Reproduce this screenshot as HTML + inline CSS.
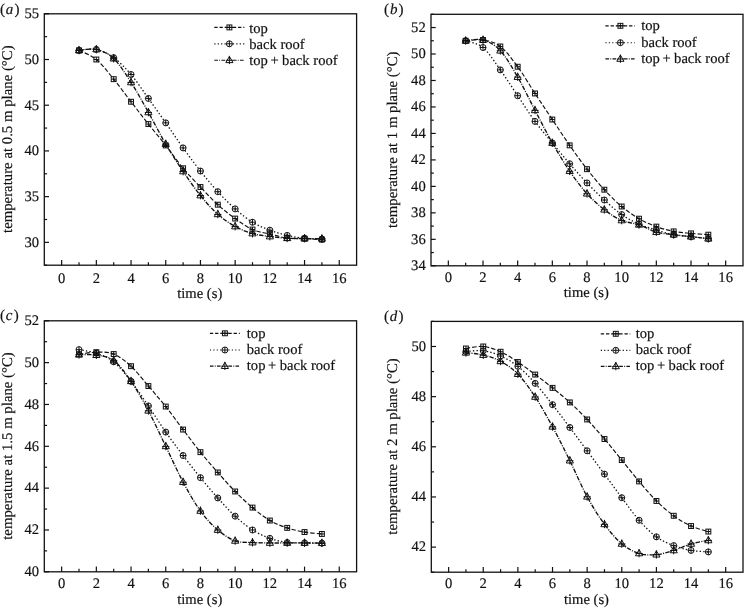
<!DOCTYPE html><html><head><meta charset="utf-8"><style>html,body{margin:0;padding:0;background:#fff;width:744px;height:608px;overflow:hidden}svg{display:block;will-change:transform}text{font-family:"Liberation Serif",serif;fill:#111;text-rendering:geometricPrecision;stroke:#111;stroke-width:0.18}.mk{fill:none;stroke:#111;stroke-width:1.0}.ln{fill:none;stroke:#111;stroke-width:1.15}.fr{fill:none;stroke:#111;stroke-width:1.3}.tk{stroke:#111;stroke-width:1.2}.w1{stroke-width:1.3}.w2{stroke-width:1.35}</style></head><body>
<svg width="744" height="608" viewBox="0 0 744 608">
<g><path d="M61.65,265.2V260" class="tk"/><text x="61.65" y="282.6" font-size="14.6" text-anchor="middle">0</text><path d="M96.35,265.2V260" class="tk"/><text x="96.35" y="282.6" font-size="14.6" text-anchor="middle">2</text><path d="M131.05,265.2V260" class="tk"/><text x="131.05" y="282.6" font-size="14.6" text-anchor="middle">4</text><path d="M165.75,265.2V260" class="tk"/><text x="165.75" y="282.6" font-size="14.6" text-anchor="middle">6</text><path d="M200.45,265.2V260" class="tk"/><text x="200.45" y="282.6" font-size="14.6" text-anchor="middle">8</text><path d="M235.15,265.2V260" class="tk"/><text x="235.15" y="282.6" font-size="14.6" text-anchor="middle">10</text><path d="M269.85,265.2V260" class="tk"/><text x="269.85" y="282.6" font-size="14.6" text-anchor="middle">12</text><path d="M304.55,265.2V260" class="tk"/><text x="304.55" y="282.6" font-size="14.6" text-anchor="middle">14</text><path d="M339.25,265.2V260" class="tk"/><text x="339.25" y="282.6" font-size="14.6" text-anchor="middle">16</text><path d="M79,265.2V262.2" class="tk"/><path d="M113.7,265.2V262.2" class="tk"/><path d="M148.4,265.2V262.2" class="tk"/><path d="M183.1,265.2V262.2" class="tk"/><path d="M217.8,265.2V262.2" class="tk"/><path d="M252.5,265.2V262.2" class="tk"/><path d="M287.2,265.2V262.2" class="tk"/><path d="M321.9,265.2V262.2" class="tk"/><path d="M44.3,242.35H49" class="tk"/><text x="39" y="246.65" font-size="14.6" text-anchor="end">30</text><path d="M44.3,196.64H49" class="tk"/><text x="39" y="200.94" font-size="14.6" text-anchor="end">35</text><path d="M44.3,150.93H49" class="tk"/><text x="39" y="155.23" font-size="14.6" text-anchor="end">40</text><path d="M44.3,105.22H49" class="tk"/><text x="39" y="109.52" font-size="14.6" text-anchor="end">45</text><path d="M44.3,59.51H49" class="tk"/><text x="39" y="63.81" font-size="14.6" text-anchor="end">50</text><path d="M44.3,13.8H49" class="tk"/><text x="39" y="18.1" font-size="14.6" text-anchor="end">55</text><path d="M44.3,265.2H47.1" class="tk"/><path d="M44.3,219.49H47.1" class="tk"/><path d="M44.3,173.78H47.1" class="tk"/><path d="M44.3,128.07H47.1" class="tk"/><path d="M44.3,82.36H47.1" class="tk"/><path d="M44.3,36.65H47.1" class="tk"/><rect x="44.3" y="13.8" width="312.3" height="251.4" class="fr"/><text x="199.75" y="298.2" font-size="14.6" text-anchor="middle">time (s)</text><text transform="translate(12.2,139.2) rotate(-90)" font-size="14.8" text-anchor="middle">temperature at 0.5 m plane (°C)</text><text x="0" y="13.8" font-size="15">(<tspan font-style="italic" dx="0.8">a</tspan><tspan dx="1.2">)</tspan></text><path d="M79,50.37 C81.89,51.89 90.57,54.71 96.35,59.51 C102.13,64.31 107.92,72.12 113.7,79.16 C119.48,86.2 125.27,94.26 131.05,101.74 C136.83,109.23 142.62,116.77 148.4,124.05 C154.18,131.33 159.97,138.07 165.75,145.44 C171.53,152.82 177.32,161.36 183.1,168.3 C188.88,175.23 194.67,180.97 200.45,187.04 C206.23,193.1 212.02,199.42 217.8,204.68 C223.58,209.94 229.37,214.43 235.15,218.58 C240.93,222.72 246.72,226.96 252.5,229.55 C258.28,232.14 264.07,232.7 269.85,234.12 C275.63,235.53 281.42,237.29 287.2,238.05 C292.98,238.81 298.77,238.43 304.55,238.69 C310.33,238.95 319.01,239.45 321.9,239.6" class="ln w0" stroke-dasharray="4.4 2"/><rect x="76.55" y="47.92" width="4.9" height="4.9" class="mk"/><path d="M79,47.92V52.82M76.55,50.37H81.45" class="mk"/><rect x="93.9" y="57.06" width="4.9" height="4.9" class="mk"/><path d="M96.35,57.06V61.96M93.9,59.51H98.8" class="mk"/><rect x="111.25" y="76.71" width="4.9" height="4.9" class="mk"/><path d="M113.7,76.71V81.61M111.25,79.16H116.15" class="mk"/><rect x="128.6" y="99.29" width="4.9" height="4.9" class="mk"/><path d="M131.05,99.29V104.19M128.6,101.74H133.5" class="mk"/><rect x="145.95" y="121.6" width="4.9" height="4.9" class="mk"/><path d="M148.4,121.6V126.5M145.95,124.05H150.85" class="mk"/><rect x="163.3" y="142.99" width="4.9" height="4.9" class="mk"/><path d="M165.75,142.99V147.89M163.3,145.44H168.2" class="mk"/><rect x="180.65" y="165.85" width="4.9" height="4.9" class="mk"/><path d="M183.1,165.85V170.75M180.65,168.3H185.55" class="mk"/><rect x="198" y="184.59" width="4.9" height="4.9" class="mk"/><path d="M200.45,184.59V189.49M198,187.04H202.9" class="mk"/><rect x="215.35" y="202.23" width="4.9" height="4.9" class="mk"/><path d="M217.8,202.23V207.13M215.35,204.68H220.25" class="mk"/><rect x="232.7" y="216.13" width="4.9" height="4.9" class="mk"/><path d="M235.15,216.13V221.03M232.7,218.58H237.6" class="mk"/><rect x="250.05" y="227.1" width="4.9" height="4.9" class="mk"/><path d="M252.5,227.1V232M250.05,229.55H254.95" class="mk"/><rect x="267.4" y="231.67" width="4.9" height="4.9" class="mk"/><path d="M269.85,231.67V236.57M267.4,234.12H272.3" class="mk"/><rect x="284.75" y="235.6" width="4.9" height="4.9" class="mk"/><path d="M287.2,235.6V240.5M284.75,238.05H289.65" class="mk"/><rect x="302.1" y="236.24" width="4.9" height="4.9" class="mk"/><path d="M304.55,236.24V241.14M302.1,238.69H307" class="mk"/><rect x="319.45" y="237.15" width="4.9" height="4.9" class="mk"/><path d="M321.9,237.15V242.05M319.45,239.6H324.35" class="mk"/><path d="M79,50.37 C81.89,50.21 90.57,48.23 96.35,49.45 C102.13,50.67 107.92,53.51 113.7,57.68 C119.48,61.86 125.27,67.71 131.05,74.5 C136.83,81.3 142.62,90.39 148.4,98.45 C154.18,106.51 159.97,114.62 165.75,122.86 C171.53,131.1 177.32,139.88 183.1,147.91 C188.88,155.94 194.67,163.74 200.45,171.04 C206.23,178.34 212.02,185.39 217.8,191.7 C223.58,198.01 229.37,203.8 235.15,208.89 C240.93,213.98 246.72,218.68 252.5,222.23 C258.28,225.78 264.07,227.99 269.85,230.19 C275.63,232.38 281.42,234.06 287.2,235.4 C292.98,236.74 298.77,237.61 304.55,238.23 C310.33,238.86 319.01,238.99 321.9,239.15" class="ln w1" stroke-dasharray="1.4 2.1"/><circle cx="79" cy="50.37" r="3" class="mk"/><path d="M79,47.37V53.37M76,50.37H82" class="mk"/><circle cx="96.35" cy="49.45" r="3" class="mk"/><path d="M96.35,46.45V52.45M93.35,49.45H99.35" class="mk"/><circle cx="113.7" cy="57.68" r="3" class="mk"/><path d="M113.7,54.68V60.68M110.7,57.68H116.7" class="mk"/><circle cx="131.05" cy="74.5" r="3" class="mk"/><path d="M131.05,71.5V77.5M128.05,74.5H134.05" class="mk"/><circle cx="148.4" cy="98.45" r="3" class="mk"/><path d="M148.4,95.45V101.45M145.4,98.45H151.4" class="mk"/><circle cx="165.75" cy="122.86" r="3" class="mk"/><path d="M165.75,119.86V125.86M162.75,122.86H168.75" class="mk"/><circle cx="183.1" cy="147.91" r="3" class="mk"/><path d="M183.1,144.91V150.91M180.1,147.91H186.1" class="mk"/><circle cx="200.45" cy="171.04" r="3" class="mk"/><path d="M200.45,168.04V174.04M197.45,171.04H203.45" class="mk"/><circle cx="217.8" cy="191.7" r="3" class="mk"/><path d="M217.8,188.7V194.7M214.8,191.7H220.8" class="mk"/><circle cx="235.15" cy="208.89" r="3" class="mk"/><path d="M235.15,205.89V211.89M232.15,208.89H238.15" class="mk"/><circle cx="252.5" cy="222.23" r="3" class="mk"/><path d="M252.5,219.23V225.23M249.5,222.23H255.5" class="mk"/><circle cx="269.85" cy="230.19" r="3" class="mk"/><path d="M269.85,227.19V233.19M266.85,230.19H272.85" class="mk"/><circle cx="287.2" cy="235.4" r="3" class="mk"/><path d="M287.2,232.4V238.4M284.2,235.4H290.2" class="mk"/><circle cx="304.55" cy="238.23" r="3" class="mk"/><path d="M304.55,235.23V241.23M301.55,238.23H307.55" class="mk"/><circle cx="321.9" cy="239.15" r="3" class="mk"/><path d="M321.9,236.15V242.15M318.9,239.15H324.9" class="mk"/><path d="M79,50.37 C81.89,50.21 90.57,48.08 96.35,49.45 C102.13,50.82 107.92,53.11 113.7,58.59 C119.48,64.08 125.27,73.4 131.05,82.36 C136.83,91.32 142.62,102.06 148.4,112.35 C154.18,122.63 159.97,134.23 165.75,144.07 C171.53,153.91 177.32,162.84 183.1,171.4 C188.88,179.97 194.67,188.3 200.45,195.45 C206.23,202.59 212.02,209.11 217.8,214.28 C223.58,219.45 229.37,223.24 235.15,226.44 C240.93,229.64 246.72,231.8 252.5,233.48 C258.28,235.15 264.07,235.7 269.85,236.49 C275.63,237.29 281.42,237.9 287.2,238.23 C292.98,238.57 298.77,238.43 304.55,238.51 C310.33,238.58 319.01,238.66 321.9,238.69" class="ln w2" stroke-dasharray="4.4 1.3 1 1.3"/><path d="M79,46.57L82.6,52.77L75.4,52.77Z" class="mk"/><path d="M79,45.97V54.27M75.4,50.47H82.6" class="mk"/><path d="M96.35,45.65L99.95,51.85L92.75,51.85Z" class="mk"/><path d="M96.35,45.05V53.35M92.75,49.55H99.95" class="mk"/><path d="M113.7,54.79L117.3,60.99L110.1,60.99Z" class="mk"/><path d="M113.7,54.19V62.49M110.1,58.69H117.3" class="mk"/><path d="M131.05,78.56L134.65,84.76L127.45,84.76Z" class="mk"/><path d="M131.05,77.96V86.26M127.45,82.46H134.65" class="mk"/><path d="M148.4,108.55L152,114.75L144.8,114.75Z" class="mk"/><path d="M148.4,107.95V116.25M144.8,112.45H152" class="mk"/><path d="M165.75,140.27L169.35,146.47L162.15,146.47Z" class="mk"/><path d="M165.75,139.67V147.97M162.15,144.17H169.35" class="mk"/><path d="M183.1,167.6L186.7,173.8L179.5,173.8Z" class="mk"/><path d="M183.1,167V175.3M179.5,171.5H186.7" class="mk"/><path d="M200.45,191.65L204.05,197.85L196.85,197.85Z" class="mk"/><path d="M200.45,191.05V199.35M196.85,195.55H204.05" class="mk"/><path d="M217.8,210.48L221.4,216.68L214.2,216.68Z" class="mk"/><path d="M217.8,209.88V218.18M214.2,214.38H221.4" class="mk"/><path d="M235.15,222.64L238.75,228.84L231.55,228.84Z" class="mk"/><path d="M235.15,222.04V230.34M231.55,226.54H238.75" class="mk"/><path d="M252.5,229.68L256.1,235.88L248.9,235.88Z" class="mk"/><path d="M252.5,229.08V237.38M248.9,233.58H256.1" class="mk"/><path d="M269.85,232.69L273.45,238.89L266.25,238.89Z" class="mk"/><path d="M269.85,232.09V240.39M266.25,236.59H273.45" class="mk"/><path d="M287.2,234.43L290.8,240.63L283.6,240.63Z" class="mk"/><path d="M287.2,233.83V242.13M283.6,238.33H290.8" class="mk"/><path d="M304.55,234.71L308.15,240.91L300.95,240.91Z" class="mk"/><path d="M304.55,234.11V242.41M300.95,238.61H308.15" class="mk"/><path d="M321.9,234.89L325.5,241.09L318.3,241.09Z" class="mk"/><path d="M321.9,234.29V242.59M318.3,238.79H325.5" class="mk"/><path d="M214.3,27.4H225.9" class="ln" stroke-dasharray="3.3 1.9"/><path d="M232.9,27.4H244.4" class="ln" stroke-dasharray="3.3 1.9"/><path d="M225.4,27.4H233.4" class="ln"/><rect x="226.95" y="24.95" width="4.9" height="4.9" class="mk"/><path d="M229.4,24.95V29.85M226.95,27.4H231.85" class="mk"/><text x="249.2" y="32.6" font-size="14.6">top</text><path d="M214.3,43.8H225.9" class="ln" stroke-dasharray="1.2 2.2"/><path d="M232.9,43.8H244.4" class="ln" stroke-dasharray="1.2 2.2"/><circle cx="229.4" cy="43.8" r="3" class="mk"/><path d="M229.4,40.8V46.8M226.4,43.8H232.4" class="mk"/><text x="249.2" y="48.5" font-size="14.6">back roof</text><path d="M214.3,60.2H225.9" class="ln" stroke-dasharray="3.6 1.3 0.9 1.3"/><path d="M232.9,60.2H244.4" class="ln" stroke-dasharray="3.6 1.3 0.9 1.3"/><path d="M229.4,56.4L233,62.6L225.8,62.6Z" class="mk"/><path d="M229.4,55.8V64.1M225.8,60.3H233" class="mk"/><text x="249.2" y="64.9" font-size="14.6">top<tspan dx="-1.1"> +</tspan><tspan dx="-0.2"> back roof</tspan></text></g>
<g><path d="M448.33,265.8V260.6" class="tk"/><text x="448.33" y="281.5" font-size="14.6" text-anchor="middle">0</text><path d="M483,265.8V260.6" class="tk"/><text x="483" y="281.5" font-size="14.6" text-anchor="middle">2</text><path d="M517.67,265.8V260.6" class="tk"/><text x="517.67" y="281.5" font-size="14.6" text-anchor="middle">4</text><path d="M552.33,265.8V260.6" class="tk"/><text x="552.33" y="281.5" font-size="14.6" text-anchor="middle">6</text><path d="M587,265.8V260.6" class="tk"/><text x="587" y="281.5" font-size="14.6" text-anchor="middle">8</text><path d="M621.67,265.8V260.6" class="tk"/><text x="621.67" y="281.5" font-size="14.6" text-anchor="middle">10</text><path d="M656.33,265.8V260.6" class="tk"/><text x="656.33" y="281.5" font-size="14.6" text-anchor="middle">12</text><path d="M691,265.8V260.6" class="tk"/><text x="691" y="281.5" font-size="14.6" text-anchor="middle">14</text><path d="M725.67,265.8V260.6" class="tk"/><text x="725.67" y="281.5" font-size="14.6" text-anchor="middle">16</text><path d="M465.67,265.8V262.8" class="tk"/><path d="M500.33,265.8V262.8" class="tk"/><path d="M535,265.8V262.8" class="tk"/><path d="M569.67,265.8V262.8" class="tk"/><path d="M604.33,265.8V262.8" class="tk"/><path d="M639,265.8V262.8" class="tk"/><path d="M673.67,265.8V262.8" class="tk"/><path d="M708.33,265.8V262.8" class="tk"/><path d="M431,265.8H435.7" class="tk"/><text x="425.7" y="270.1" font-size="14.6" text-anchor="end">34</text><path d="M431,239.33H435.7" class="tk"/><text x="425.7" y="243.63" font-size="14.6" text-anchor="end">36</text><path d="M431,212.85H435.7" class="tk"/><text x="425.7" y="217.15" font-size="14.6" text-anchor="end">38</text><path d="M431,186.38H435.7" class="tk"/><text x="425.7" y="190.68" font-size="14.6" text-anchor="end">40</text><path d="M431,159.91H435.7" class="tk"/><text x="425.7" y="164.21" font-size="14.6" text-anchor="end">42</text><path d="M431,133.43H435.7" class="tk"/><text x="425.7" y="137.73" font-size="14.6" text-anchor="end">44</text><path d="M431,106.96H435.7" class="tk"/><text x="425.7" y="111.26" font-size="14.6" text-anchor="end">46</text><path d="M431,80.48H435.7" class="tk"/><text x="425.7" y="84.78" font-size="14.6" text-anchor="end">48</text><path d="M431,54.01H435.7" class="tk"/><text x="425.7" y="58.31" font-size="14.6" text-anchor="end">50</text><path d="M431,27.54H435.7" class="tk"/><text x="425.7" y="31.84" font-size="14.6" text-anchor="end">52</text><path d="M431,252.56H433.8" class="tk"/><path d="M431,226.09H433.8" class="tk"/><path d="M431,199.62H433.8" class="tk"/><path d="M431,173.14H433.8" class="tk"/><path d="M431,146.67H433.8" class="tk"/><path d="M431,120.19H433.8" class="tk"/><path d="M431,93.72H433.8" class="tk"/><path d="M431,67.25H433.8" class="tk"/><path d="M431,40.77H433.8" class="tk"/><path d="M431,14.3H433.8" class="tk"/><rect x="431" y="14.3" width="312" height="251.5" class="fr"/><text x="586.3" y="297" font-size="14.6" text-anchor="middle">time (s)</text><text transform="translate(397,139.75) rotate(-90)" font-size="14.8" text-anchor="middle">temperature at 1 m plane (°C)</text><text x="384.1" y="13.5" font-size="15">(<tspan font-style="italic" dx="0.8">b</tspan><tspan dx="1.2">)</tspan></text><path d="M465.67,40.77 C468.56,40.64 477.22,39.03 483,39.98 C488.78,40.93 494.56,42.01 500.33,46.47 C506.11,50.92 511.89,58.89 517.67,66.72 C523.44,74.55 529.22,84.65 535,93.46 C540.78,102.26 546.56,110.88 552.33,119.53 C558.11,128.18 563.89,137.07 569.67,145.34 C575.44,153.62 581.22,161.78 587,169.17 C592.78,176.56 598.56,183.47 604.33,189.69 C610.11,195.91 615.89,201.67 621.67,206.5 C627.44,211.33 633.22,215.32 639,218.68 C644.78,222.03 650.56,224.5 656.33,226.62 C662.11,228.74 667.89,230.26 673.67,231.38 C679.44,232.51 685.22,232.82 691,233.37 C696.78,233.92 705.44,234.47 708.33,234.69" class="ln w0" stroke-dasharray="4.4 2"/><rect x="463.22" y="38.32" width="4.9" height="4.9" class="mk"/><path d="M465.67,38.32V43.22M463.22,40.77H468.12" class="mk"/><rect x="480.55" y="37.53" width="4.9" height="4.9" class="mk"/><path d="M483,37.53V42.43M480.55,39.98H485.45" class="mk"/><rect x="497.88" y="44.02" width="4.9" height="4.9" class="mk"/><path d="M500.33,44.02V48.92M497.88,46.47H502.78" class="mk"/><rect x="515.22" y="64.27" width="4.9" height="4.9" class="mk"/><path d="M517.67,64.27V69.17M515.22,66.72H520.12" class="mk"/><rect x="532.55" y="91.01" width="4.9" height="4.9" class="mk"/><path d="M535,91.01V95.91M532.55,93.46H537.45" class="mk"/><rect x="549.88" y="117.08" width="4.9" height="4.9" class="mk"/><path d="M552.33,117.08V121.98M549.88,119.53H554.78" class="mk"/><rect x="567.22" y="142.89" width="4.9" height="4.9" class="mk"/><path d="M569.67,142.89V147.79M567.22,145.34H572.12" class="mk"/><rect x="584.55" y="166.72" width="4.9" height="4.9" class="mk"/><path d="M587,166.72V171.62M584.55,169.17H589.45" class="mk"/><rect x="601.88" y="187.24" width="4.9" height="4.9" class="mk"/><path d="M604.33,187.24V192.14M601.88,189.69H606.78" class="mk"/><rect x="619.22" y="204.05" width="4.9" height="4.9" class="mk"/><path d="M621.67,204.05V208.95M619.22,206.5H624.12" class="mk"/><rect x="636.55" y="216.23" width="4.9" height="4.9" class="mk"/><path d="M639,216.23V221.13M636.55,218.68H641.45" class="mk"/><rect x="653.88" y="224.17" width="4.9" height="4.9" class="mk"/><path d="M656.33,224.17V229.07M653.88,226.62H658.78" class="mk"/><rect x="671.22" y="228.93" width="4.9" height="4.9" class="mk"/><path d="M673.67,228.93V233.83M671.22,231.38H676.12" class="mk"/><rect x="688.55" y="230.92" width="4.9" height="4.9" class="mk"/><path d="M691,230.92V235.82M688.55,233.37H693.45" class="mk"/><rect x="705.88" y="232.24" width="4.9" height="4.9" class="mk"/><path d="M708.33,232.24V237.14M705.88,234.69H710.78" class="mk"/><path d="M465.67,40.77 C468.56,41.9 477.22,42.67 483,47.52 C488.78,52.38 494.56,61.86 500.33,69.89 C506.11,77.93 511.89,87.12 517.67,95.71 C523.44,104.29 529.22,113.51 535,121.39 C540.78,129.26 546.56,135.9 552.33,142.96 C558.11,150.02 563.89,157.08 569.67,163.74 C575.44,170.41 581.22,176.89 587,182.94 C592.78,188.98 598.56,194.74 604.33,200.01 C610.11,205.29 615.89,210.56 621.67,214.57 C627.44,218.59 633.22,221.52 639,224.1 C644.78,226.69 650.56,228.3 656.33,230.06 C662.11,231.83 667.89,233.59 673.67,234.69 C679.44,235.8 685.22,236.02 691,236.68 C696.78,237.34 705.44,238.33 708.33,238.66" class="ln w1" stroke-dasharray="1.4 2.1"/><circle cx="465.67" cy="40.77" r="3" class="mk"/><path d="M465.67,37.77V43.77M462.67,40.77H468.67" class="mk"/><circle cx="483" cy="47.52" r="3" class="mk"/><path d="M483,44.52V50.52M480,47.52H486" class="mk"/><circle cx="500.33" cy="69.89" r="3" class="mk"/><path d="M500.33,66.89V72.89M497.33,69.89H503.33" class="mk"/><circle cx="517.67" cy="95.71" r="3" class="mk"/><path d="M517.67,92.71V98.71M514.67,95.71H520.67" class="mk"/><circle cx="535" cy="121.39" r="3" class="mk"/><path d="M535,118.39V124.39M532,121.39H538" class="mk"/><circle cx="552.33" cy="142.96" r="3" class="mk"/><path d="M552.33,139.96V145.96M549.33,142.96H555.33" class="mk"/><circle cx="569.67" cy="163.74" r="3" class="mk"/><path d="M569.67,160.74V166.74M566.67,163.74H572.67" class="mk"/><circle cx="587" cy="182.94" r="3" class="mk"/><path d="M587,179.94V185.94M584,182.94H590" class="mk"/><circle cx="604.33" cy="200.01" r="3" class="mk"/><path d="M604.33,197.01V203.01M601.33,200.01H607.33" class="mk"/><circle cx="621.67" cy="214.57" r="3" class="mk"/><path d="M621.67,211.57V217.57M618.67,214.57H624.67" class="mk"/><circle cx="639" cy="224.1" r="3" class="mk"/><path d="M639,221.1V227.1M636,224.1H642" class="mk"/><circle cx="656.33" cy="230.06" r="3" class="mk"/><path d="M656.33,227.06V233.06M653.33,230.06H659.33" class="mk"/><circle cx="673.67" cy="234.69" r="3" class="mk"/><path d="M673.67,231.69V237.69M670.67,234.69H676.67" class="mk"/><circle cx="691" cy="236.68" r="3" class="mk"/><path d="M691,233.68V239.68M688,236.68H694" class="mk"/><circle cx="708.33" cy="238.66" r="3" class="mk"/><path d="M708.33,235.66V241.66M705.33,238.66H711.33" class="mk"/><path d="M465.67,40.77 C468.56,40.64 477.22,38.32 483,39.98 C488.78,41.63 494.56,44.52 500.33,50.7 C506.11,56.88 511.89,67.12 517.67,77.04 C523.44,86.97 529.22,99.28 535,110.27 C540.78,121.25 546.56,132.81 552.33,142.96 C558.11,153.11 563.89,162.71 569.67,171.16 C575.44,179.61 581.22,187.24 587,193.66 C592.78,200.08 598.56,205.22 604.33,209.68 C610.11,214.13 615.89,217.88 621.67,220.4 C627.44,222.91 633.22,222.82 639,224.77 C644.78,226.71 650.56,230.39 656.33,232.05 C662.11,233.7 667.89,233.92 673.67,234.69 C679.44,235.47 685.22,236.02 691,236.68 C696.78,237.34 705.44,238.33 708.33,238.66" class="ln w2" stroke-dasharray="4.4 1.3 1 1.3"/><path d="M465.67,36.97L469.27,43.17L462.07,43.17Z" class="mk"/><path d="M465.67,36.37V44.67M462.07,40.87H469.27" class="mk"/><path d="M483,36.18L486.6,42.38L479.4,42.38Z" class="mk"/><path d="M483,35.58V43.88M479.4,40.08H486.6" class="mk"/><path d="M500.33,46.9L503.93,53.1L496.73,53.1Z" class="mk"/><path d="M500.33,46.3V54.6M496.73,50.8H503.93" class="mk"/><path d="M517.67,73.24L521.27,79.44L514.07,79.44Z" class="mk"/><path d="M517.67,72.64V80.94M514.07,77.14H521.27" class="mk"/><path d="M535,106.47L538.6,112.67L531.4,112.67Z" class="mk"/><path d="M535,105.87V114.17M531.4,110.37H538.6" class="mk"/><path d="M552.33,139.16L555.93,145.36L548.73,145.36Z" class="mk"/><path d="M552.33,138.56V146.86M548.73,143.06H555.93" class="mk"/><path d="M569.67,167.36L573.27,173.56L566.07,173.56Z" class="mk"/><path d="M569.67,166.76V175.06M566.07,171.26H573.27" class="mk"/><path d="M587,189.86L590.6,196.06L583.4,196.06Z" class="mk"/><path d="M587,189.26V197.56M583.4,193.76H590.6" class="mk"/><path d="M604.33,205.88L607.93,212.08L600.73,212.08Z" class="mk"/><path d="M604.33,205.28V213.58M600.73,209.78H607.93" class="mk"/><path d="M621.67,216.6L625.27,222.8L618.07,222.8Z" class="mk"/><path d="M621.67,216V224.3M618.07,220.5H625.27" class="mk"/><path d="M639,220.97L642.6,227.17L635.4,227.17Z" class="mk"/><path d="M639,220.37V228.67M635.4,224.87H642.6" class="mk"/><path d="M656.33,228.25L659.93,234.45L652.73,234.45Z" class="mk"/><path d="M656.33,227.65V235.95M652.73,232.15H659.93" class="mk"/><path d="M673.67,230.89L677.27,237.09L670.07,237.09Z" class="mk"/><path d="M673.67,230.29V238.59M670.07,234.79H677.27" class="mk"/><path d="M691,232.88L694.6,239.08L687.4,239.08Z" class="mk"/><path d="M691,232.28V240.58M687.4,236.78H694.6" class="mk"/><path d="M708.33,234.86L711.93,241.06L704.73,241.06Z" class="mk"/><path d="M708.33,234.26V242.56M704.73,238.76H711.93" class="mk"/><path d="M605.4,25.8H616.9" class="ln" stroke-dasharray="3.3 1.9"/><path d="M623.9,25.8H634.9" class="ln" stroke-dasharray="3.3 1.9"/><path d="M616.4,25.8H624.4" class="ln"/><rect x="617.95" y="23.35" width="4.9" height="4.9" class="mk"/><path d="M620.4,23.35V28.25M617.95,25.8H622.85" class="mk"/><text x="641.2" y="30.1" font-size="14.6">top</text><path d="M605.4,42.7H616.9" class="ln" stroke-dasharray="1.2 2.2"/><path d="M623.9,42.7H634.9" class="ln" stroke-dasharray="1.2 2.2"/><circle cx="620.4" cy="42.7" r="3" class="mk"/><path d="M620.4,39.7V45.7M617.4,42.7H623.4" class="mk"/><text x="641.2" y="46.9" font-size="14.6">back roof</text><path d="M605.4,58.9H616.9" class="ln" stroke-dasharray="3.6 1.3 0.9 1.3"/><path d="M623.9,58.9H634.9" class="ln" stroke-dasharray="3.6 1.3 0.9 1.3"/><path d="M620.4,55.1L624,61.3L616.8,61.3Z" class="mk"/><path d="M620.4,54.5V62.8M616.8,59H624" class="mk"/><text x="641.2" y="62.9" font-size="14.6">top<tspan dx="-1.1"> +</tspan><tspan dx="-0.2"> back roof</tspan></text></g>
<g><path d="M61.65,571.8V566.6" class="tk"/><text x="61.65" y="587.5" font-size="14.6" text-anchor="middle">0</text><path d="M96.35,571.8V566.6" class="tk"/><text x="96.35" y="587.5" font-size="14.6" text-anchor="middle">2</text><path d="M131.05,571.8V566.6" class="tk"/><text x="131.05" y="587.5" font-size="14.6" text-anchor="middle">4</text><path d="M165.75,571.8V566.6" class="tk"/><text x="165.75" y="587.5" font-size="14.6" text-anchor="middle">6</text><path d="M200.45,571.8V566.6" class="tk"/><text x="200.45" y="587.5" font-size="14.6" text-anchor="middle">8</text><path d="M235.15,571.8V566.6" class="tk"/><text x="235.15" y="587.5" font-size="14.6" text-anchor="middle">10</text><path d="M269.85,571.8V566.6" class="tk"/><text x="269.85" y="587.5" font-size="14.6" text-anchor="middle">12</text><path d="M304.55,571.8V566.6" class="tk"/><text x="304.55" y="587.5" font-size="14.6" text-anchor="middle">14</text><path d="M339.25,571.8V566.6" class="tk"/><text x="339.25" y="587.5" font-size="14.6" text-anchor="middle">16</text><path d="M79,571.8V568.8" class="tk"/><path d="M113.7,571.8V568.8" class="tk"/><path d="M148.4,571.8V568.8" class="tk"/><path d="M183.1,571.8V568.8" class="tk"/><path d="M217.8,571.8V568.8" class="tk"/><path d="M252.5,571.8V568.8" class="tk"/><path d="M287.2,571.8V568.8" class="tk"/><path d="M321.9,571.8V568.8" class="tk"/><path d="M44.3,571.8H49" class="tk"/><text x="39" y="576.1" font-size="14.6" text-anchor="end">40</text><path d="M44.3,529.97H49" class="tk"/><text x="39" y="534.27" font-size="14.6" text-anchor="end">42</text><path d="M44.3,488.13H49" class="tk"/><text x="39" y="492.43" font-size="14.6" text-anchor="end">44</text><path d="M44.3,446.3H49" class="tk"/><text x="39" y="450.6" font-size="14.6" text-anchor="end">46</text><path d="M44.3,404.47H49" class="tk"/><text x="39" y="408.77" font-size="14.6" text-anchor="end">48</text><path d="M44.3,362.63H49" class="tk"/><text x="39" y="366.93" font-size="14.6" text-anchor="end">50</text><path d="M44.3,320.8H49" class="tk"/><text x="39" y="325.1" font-size="14.6" text-anchor="end">52</text><path d="M44.3,550.88H47.1" class="tk"/><path d="M44.3,509.05H47.1" class="tk"/><path d="M44.3,467.22H47.1" class="tk"/><path d="M44.3,425.38H47.1" class="tk"/><path d="M44.3,383.55H47.1" class="tk"/><path d="M44.3,341.72H47.1" class="tk"/><rect x="44.3" y="320.8" width="312.3" height="251" class="fr"/><text x="199.75" y="603.6" font-size="14.6" text-anchor="middle">time (s)</text><text transform="translate(12.2,446) rotate(-90)" font-size="14.8" text-anchor="middle">temperature at 1.5 m plane (°C)</text><text x="0" y="320.3" font-size="15">(<tspan font-style="italic" dx="0.8">c</tspan><tspan dx="1.2">)</tspan></text><path d="M79,354.27 C81.89,353.92 90.57,352.21 96.35,352.18 C102.13,352.14 107.92,351.72 113.7,354.06 C119.48,356.39 125.27,360.86 131.05,366.19 C136.83,371.52 142.62,379.33 148.4,386.06 C154.18,392.79 159.97,399.31 165.75,406.56 C171.53,413.81 177.32,421.97 183.1,429.57 C188.88,437.17 194.67,445.01 200.45,452.16 C206.23,459.3 212.02,465.89 217.8,472.45 C223.58,479 229.37,485.62 235.15,491.48 C240.93,497.34 246.72,502.74 252.5,507.59 C258.28,512.43 264.07,517.17 269.85,520.55 C275.63,523.94 281.42,525.96 287.2,527.87 C292.98,529.79 298.77,531.05 304.55,532.06 C310.33,533.07 319.01,533.63 321.9,533.94" class="ln w0" stroke-dasharray="4.4 2"/><rect x="76.55" y="351.82" width="4.9" height="4.9" class="mk"/><path d="M79,351.82V356.72M76.55,354.27H81.45" class="mk"/><rect x="93.9" y="349.73" width="4.9" height="4.9" class="mk"/><path d="M96.35,349.73V354.62M93.9,352.18H98.8" class="mk"/><rect x="111.25" y="351.61" width="4.9" height="4.9" class="mk"/><path d="M113.7,351.61V356.51M111.25,354.06H116.15" class="mk"/><rect x="128.6" y="363.74" width="4.9" height="4.9" class="mk"/><path d="M131.05,363.74V368.64M128.6,366.19H133.5" class="mk"/><rect x="145.95" y="383.61" width="4.9" height="4.9" class="mk"/><path d="M148.4,383.61V388.51M145.95,386.06H150.85" class="mk"/><rect x="163.3" y="404.11" width="4.9" height="4.9" class="mk"/><path d="M165.75,404.11V409.01M163.3,406.56H168.2" class="mk"/><rect x="180.65" y="427.12" width="4.9" height="4.9" class="mk"/><path d="M183.1,427.12V432.02M180.65,429.57H185.55" class="mk"/><rect x="198" y="449.71" width="4.9" height="4.9" class="mk"/><path d="M200.45,449.71V454.61M198,452.16H202.9" class="mk"/><rect x="215.35" y="470" width="4.9" height="4.9" class="mk"/><path d="M217.8,470V474.9M215.35,472.45H220.25" class="mk"/><rect x="232.7" y="489.03" width="4.9" height="4.9" class="mk"/><path d="M235.15,489.03V493.93M232.7,491.48H237.6" class="mk"/><rect x="250.05" y="505.14" width="4.9" height="4.9" class="mk"/><path d="M252.5,505.14V510.04M250.05,507.59H254.95" class="mk"/><rect x="267.4" y="518.1" width="4.9" height="4.9" class="mk"/><path d="M269.85,518.1V523M267.4,520.55H272.3" class="mk"/><rect x="284.75" y="525.42" width="4.9" height="4.9" class="mk"/><path d="M287.2,525.42V530.32M284.75,527.87H289.65" class="mk"/><rect x="302.1" y="529.61" width="4.9" height="4.9" class="mk"/><path d="M304.55,529.61V534.51M302.1,532.06H307" class="mk"/><rect x="319.45" y="531.49" width="4.9" height="4.9" class="mk"/><path d="M321.9,531.49V536.39M319.45,533.94H324.35" class="mk"/><path d="M79,349.67 C81.89,350.26 90.57,351.2 96.35,353.22 C102.13,355.24 107.92,357.13 113.7,361.8 C119.48,366.47 125.27,373.89 131.05,381.25 C136.83,388.6 142.62,397.46 148.4,405.93 C154.18,414.4 159.97,423.81 165.75,432.08 C171.53,440.34 177.32,447.9 183.1,455.5 C188.88,463.1 194.67,470.6 200.45,477.67 C206.23,484.75 212.02,491.55 217.8,497.96 C223.58,504.38 229.37,510.83 235.15,516.16 C240.93,521.5 246.72,526.27 252.5,529.97 C258.28,533.66 264.07,536.24 269.85,538.33 C275.63,540.42 281.42,541.75 287.2,542.52 C292.98,543.28 298.77,542.83 304.55,542.93 C310.33,543.04 319.01,543.11 321.9,543.14" class="ln w1" stroke-dasharray="1.4 2.1"/><circle cx="79" cy="349.67" r="3" class="mk"/><path d="M79,346.67V352.67M76,349.67H82" class="mk"/><circle cx="96.35" cy="353.22" r="3" class="mk"/><path d="M96.35,350.22V356.22M93.35,353.22H99.35" class="mk"/><circle cx="113.7" cy="361.8" r="3" class="mk"/><path d="M113.7,358.8V364.8M110.7,361.8H116.7" class="mk"/><circle cx="131.05" cy="381.25" r="3" class="mk"/><path d="M131.05,378.25V384.25M128.05,381.25H134.05" class="mk"/><circle cx="148.4" cy="405.93" r="3" class="mk"/><path d="M148.4,402.93V408.93M145.4,405.93H151.4" class="mk"/><circle cx="165.75" cy="432.08" r="3" class="mk"/><path d="M165.75,429.08V435.08M162.75,432.08H168.75" class="mk"/><circle cx="183.1" cy="455.5" r="3" class="mk"/><path d="M183.1,452.5V458.5M180.1,455.5H186.1" class="mk"/><circle cx="200.45" cy="477.67" r="3" class="mk"/><path d="M200.45,474.67V480.67M197.45,477.67H203.45" class="mk"/><circle cx="217.8" cy="497.96" r="3" class="mk"/><path d="M217.8,494.96V500.96M214.8,497.96H220.8" class="mk"/><circle cx="235.15" cy="516.16" r="3" class="mk"/><path d="M235.15,513.16V519.16M232.15,516.16H238.15" class="mk"/><circle cx="252.5" cy="529.97" r="3" class="mk"/><path d="M252.5,526.97V532.97M249.5,529.97H255.5" class="mk"/><circle cx="269.85" cy="538.33" r="3" class="mk"/><path d="M269.85,535.33V541.33M266.85,538.33H272.85" class="mk"/><circle cx="287.2" cy="542.52" r="3" class="mk"/><path d="M287.2,539.52V545.52M284.2,542.52H290.2" class="mk"/><circle cx="304.55" cy="542.93" r="3" class="mk"/><path d="M304.55,539.93V545.93M301.55,542.93H307.55" class="mk"/><circle cx="321.9" cy="543.14" r="3" class="mk"/><path d="M321.9,540.14V546.14M318.9,543.14H324.9" class="mk"/><path d="M79,354.68 C81.89,354.75 90.57,354.13 96.35,355.1 C102.13,356.08 107.92,356.18 113.7,360.54 C119.48,364.9 125.27,372.88 131.05,381.25 C136.83,389.62 142.62,399.9 148.4,410.74 C154.18,421.58 159.97,434.41 165.75,446.3 C171.53,458.19 177.32,471.3 183.1,482.07 C188.88,492.84 194.67,502.95 200.45,510.93 C206.23,518.92 212.02,524.98 217.8,529.97 C223.58,534.95 229.37,538.75 235.15,540.84 C240.93,542.94 246.72,542.17 252.5,542.52 C258.28,542.87 264.07,542.87 269.85,542.93 C275.63,543 281.42,542.93 287.2,542.93 C292.98,542.93 298.77,542.9 304.55,542.93 C310.33,542.97 319.01,543.11 321.9,543.14" class="ln w2" stroke-dasharray="4.4 1.3 1 1.3"/><path d="M79,350.88L82.6,357.08L75.4,357.08Z" class="mk"/><path d="M79,350.28V358.58M75.4,354.78H82.6" class="mk"/><path d="M96.35,351.3L99.95,357.5L92.75,357.5Z" class="mk"/><path d="M96.35,350.7V359M92.75,355.2H99.95" class="mk"/><path d="M113.7,356.74L117.3,362.94L110.1,362.94Z" class="mk"/><path d="M113.7,356.14V364.44M110.1,360.64H117.3" class="mk"/><path d="M131.05,377.45L134.65,383.65L127.45,383.65Z" class="mk"/><path d="M131.05,376.85V385.15M127.45,381.35H134.65" class="mk"/><path d="M148.4,406.94L152,413.14L144.8,413.14Z" class="mk"/><path d="M148.4,406.34V414.64M144.8,410.84H152" class="mk"/><path d="M165.75,442.5L169.35,448.7L162.15,448.7Z" class="mk"/><path d="M165.75,441.9V450.2M162.15,446.4H169.35" class="mk"/><path d="M183.1,478.27L186.7,484.47L179.5,484.47Z" class="mk"/><path d="M183.1,477.67V485.97M179.5,482.17H186.7" class="mk"/><path d="M200.45,507.13L204.05,513.33L196.85,513.33Z" class="mk"/><path d="M200.45,506.53V514.83M196.85,511.03H204.05" class="mk"/><path d="M217.8,526.17L221.4,532.37L214.2,532.37Z" class="mk"/><path d="M217.8,525.57V533.87M214.2,530.07H221.4" class="mk"/><path d="M235.15,537.04L238.75,543.24L231.55,543.24Z" class="mk"/><path d="M235.15,536.44V544.74M231.55,540.94H238.75" class="mk"/><path d="M252.5,538.72L256.1,544.92L248.9,544.92Z" class="mk"/><path d="M252.5,538.12V546.42M248.9,542.62H256.1" class="mk"/><path d="M269.85,539.13L273.45,545.33L266.25,545.33Z" class="mk"/><path d="M269.85,538.53V546.83M266.25,543.03H273.45" class="mk"/><path d="M287.2,539.13L290.8,545.33L283.6,545.33Z" class="mk"/><path d="M287.2,538.53V546.83M283.6,543.03H290.8" class="mk"/><path d="M304.55,539.13L308.15,545.33L300.95,545.33Z" class="mk"/><path d="M304.55,538.53V546.83M300.95,543.03H308.15" class="mk"/><path d="M321.9,539.34L325.5,545.54L318.3,545.54Z" class="mk"/><path d="M321.9,538.74V547.04M318.3,543.24H325.5" class="mk"/><path d="M209.9,333.3H221.4" class="ln" stroke-dasharray="3.3 1.9"/><path d="M228.4,333.3H239.8" class="ln" stroke-dasharray="3.3 1.9"/><path d="M220.9,333.3H228.9" class="ln"/><rect x="222.45" y="330.85" width="4.9" height="4.9" class="mk"/><path d="M224.9,330.85V335.75M222.45,333.3H227.35" class="mk"/><text x="246.8" y="338.1" font-size="14.6">top</text><path d="M209.9,350H221.4" class="ln" stroke-dasharray="1.2 2.2"/><path d="M228.4,350H239.8" class="ln" stroke-dasharray="1.2 2.2"/><circle cx="224.9" cy="350" r="3" class="mk"/><path d="M224.9,347V353M221.9,350H227.9" class="mk"/><text x="246.8" y="354.3" font-size="14.6">back roof</text><path d="M209.9,366.1H221.4" class="ln" stroke-dasharray="3.6 1.3 0.9 1.3"/><path d="M228.4,366.1H239.8" class="ln" stroke-dasharray="3.6 1.3 0.9 1.3"/><path d="M224.9,362.3L228.5,368.5L221.3,368.5Z" class="mk"/><path d="M224.9,361.7V370M221.3,366.2H228.5" class="mk"/><text x="246.8" y="370.4" font-size="14.6">top<tspan dx="-1.1"> +</tspan><tspan dx="-0.2"> back roof</tspan></text></g>
<g><path d="M448.62,572.2V567" class="tk"/><text x="448.62" y="587.5" font-size="14.6" text-anchor="middle">0</text><path d="M483.25,572.2V567" class="tk"/><text x="483.25" y="587.5" font-size="14.6" text-anchor="middle">2</text><path d="M517.88,572.2V567" class="tk"/><text x="517.88" y="587.5" font-size="14.6" text-anchor="middle">4</text><path d="M552.52,572.2V567" class="tk"/><text x="552.52" y="587.5" font-size="14.6" text-anchor="middle">6</text><path d="M587.15,572.2V567" class="tk"/><text x="587.15" y="587.5" font-size="14.6" text-anchor="middle">8</text><path d="M621.78,572.2V567" class="tk"/><text x="621.78" y="587.5" font-size="14.6" text-anchor="middle">10</text><path d="M656.42,572.2V567" class="tk"/><text x="656.42" y="587.5" font-size="14.6" text-anchor="middle">12</text><path d="M691.05,572.2V567" class="tk"/><text x="691.05" y="587.5" font-size="14.6" text-anchor="middle">14</text><path d="M725.68,572.2V567" class="tk"/><text x="725.68" y="587.5" font-size="14.6" text-anchor="middle">16</text><path d="M465.93,572.2V569.2" class="tk"/><path d="M500.57,572.2V569.2" class="tk"/><path d="M535.2,572.2V569.2" class="tk"/><path d="M569.83,572.2V569.2" class="tk"/><path d="M604.47,572.2V569.2" class="tk"/><path d="M639.1,572.2V569.2" class="tk"/><path d="M673.73,572.2V569.2" class="tk"/><path d="M708.37,572.2V569.2" class="tk"/><path d="M431.3,547.12H436" class="tk"/><text x="426" y="551.42" font-size="14.6" text-anchor="end">42</text><path d="M431.3,496.96H436" class="tk"/><text x="426" y="501.26" font-size="14.6" text-anchor="end">44</text><path d="M431.3,446.8H436" class="tk"/><text x="426" y="451.1" font-size="14.6" text-anchor="end">46</text><path d="M431.3,396.64H436" class="tk"/><text x="426" y="400.94" font-size="14.6" text-anchor="end">48</text><path d="M431.3,346.48H436" class="tk"/><text x="426" y="350.78" font-size="14.6" text-anchor="end">50</text><path d="M431.3,572.2H434.1" class="tk"/><path d="M431.3,522.04H434.1" class="tk"/><path d="M431.3,471.88H434.1" class="tk"/><path d="M431.3,421.72H434.1" class="tk"/><path d="M431.3,371.56H434.1" class="tk"/><path d="M431.3,321.4H434.1" class="tk"/><rect x="431.3" y="321.4" width="311.7" height="250.8" class="fr"/><text x="586.45" y="603.6" font-size="14.6" text-anchor="middle">time (s)</text><text transform="translate(397,446.5) rotate(-90)" font-size="14.8" text-anchor="middle">temperature at 2 m plane (°C)</text><text x="384" y="320.6" font-size="15">(<tspan font-style="italic" dx="0.8">d</tspan><tspan dx="1.2">)</tspan></text><path d="M465.93,348.49 C468.82,348.15 477.48,345.94 483.25,346.48 C489.02,347.02 494.79,349.16 500.57,351.75 C506.34,354.34 512.11,358.23 517.88,362.03 C523.66,365.83 529.43,370.26 535.2,374.57 C540.97,378.87 546.74,383.22 552.52,387.86 C558.29,392.5 564.06,397.14 569.83,402.41 C575.61,407.68 581.38,413.36 587.15,419.46 C592.92,425.57 598.69,432.25 604.47,439.03 C610.24,445.8 616.01,453.03 621.78,460.09 C627.56,467.16 633.33,474.6 639.1,481.41 C644.87,488.22 650.64,495.25 656.42,500.97 C662.19,506.7 667.96,511.59 673.73,515.77 C679.51,519.95 685.28,523.42 691.05,526.05 C696.82,528.69 705.48,530.65 708.37,531.57" class="ln w0" stroke-dasharray="4.4 2"/><rect x="463.48" y="346.04" width="4.9" height="4.9" class="mk"/><path d="M465.93,346.04V350.94M463.48,348.49H468.38" class="mk"/><rect x="480.8" y="344.03" width="4.9" height="4.9" class="mk"/><path d="M483.25,344.03V348.93M480.8,346.48H485.7" class="mk"/><rect x="498.12" y="349.3" width="4.9" height="4.9" class="mk"/><path d="M500.57,349.3V354.2M498.12,351.75H503.02" class="mk"/><rect x="515.43" y="359.58" width="4.9" height="4.9" class="mk"/><path d="M517.88,359.58V364.48M515.43,362.03H520.33" class="mk"/><rect x="532.75" y="372.12" width="4.9" height="4.9" class="mk"/><path d="M535.2,372.12V377.02M532.75,374.57H537.65" class="mk"/><rect x="550.07" y="385.41" width="4.9" height="4.9" class="mk"/><path d="M552.52,385.41V390.31M550.07,387.86H554.97" class="mk"/><rect x="567.38" y="399.96" width="4.9" height="4.9" class="mk"/><path d="M569.83,399.96V404.86M567.38,402.41H572.28" class="mk"/><rect x="584.7" y="417.01" width="4.9" height="4.9" class="mk"/><path d="M587.15,417.01V421.91M584.7,419.46H589.6" class="mk"/><rect x="602.02" y="436.58" width="4.9" height="4.9" class="mk"/><path d="M604.47,436.58V441.48M602.02,439.03H606.92" class="mk"/><rect x="619.33" y="457.64" width="4.9" height="4.9" class="mk"/><path d="M621.78,457.64V462.54M619.33,460.09H624.23" class="mk"/><rect x="636.65" y="478.96" width="4.9" height="4.9" class="mk"/><path d="M639.1,478.96V483.86M636.65,481.41H641.55" class="mk"/><rect x="653.97" y="498.52" width="4.9" height="4.9" class="mk"/><path d="M656.42,498.52V503.42M653.97,500.97H658.87" class="mk"/><rect x="671.28" y="513.32" width="4.9" height="4.9" class="mk"/><path d="M673.73,513.32V518.22M671.28,515.77H676.18" class="mk"/><rect x="688.6" y="523.6" width="4.9" height="4.9" class="mk"/><path d="M691.05,523.6V528.5M688.6,526.05H693.5" class="mk"/><rect x="705.92" y="529.12" width="4.9" height="4.9" class="mk"/><path d="M708.37,529.12V534.02M705.92,531.57H710.82" class="mk"/><path d="M465.93,351.5 C468.82,351.37 477.48,349.99 483.25,350.74 C489.02,351.5 494.79,353.42 500.57,356.01 C506.34,358.6 512.11,361.74 517.88,366.29 C523.66,370.85 529.43,376.95 535.2,383.35 C540.97,389.74 546.74,397.31 552.52,404.67 C558.29,412.02 564.06,419.8 569.83,427.49 C575.61,435.18 581.38,443.04 587.15,450.81 C592.92,458.59 598.69,466.32 604.47,474.14 C610.24,481.95 616.01,490.02 621.78,497.71 C627.56,505.4 633.33,513.76 639.1,520.28 C644.87,526.81 650.64,532.62 656.42,536.84 C662.19,541.06 667.96,543.36 673.73,545.62 C679.51,547.87 685.28,549.34 691.05,550.38 C696.82,551.43 705.48,551.63 708.37,551.89" class="ln w1" stroke-dasharray="1.4 2.1"/><circle cx="465.93" cy="351.5" r="3" class="mk"/><path d="M465.93,348.5V354.5M462.93,351.5H468.93" class="mk"/><circle cx="483.25" cy="350.74" r="3" class="mk"/><path d="M483.25,347.74V353.74M480.25,350.74H486.25" class="mk"/><circle cx="500.57" cy="356.01" r="3" class="mk"/><path d="M500.57,353.01V359.01M497.57,356.01H503.57" class="mk"/><circle cx="517.88" cy="366.29" r="3" class="mk"/><path d="M517.88,363.29V369.29M514.88,366.29H520.88" class="mk"/><circle cx="535.2" cy="383.35" r="3" class="mk"/><path d="M535.2,380.35V386.35M532.2,383.35H538.2" class="mk"/><circle cx="552.52" cy="404.67" r="3" class="mk"/><path d="M552.52,401.67V407.67M549.52,404.67H555.52" class="mk"/><circle cx="569.83" cy="427.49" r="3" class="mk"/><path d="M569.83,424.49V430.49M566.83,427.49H572.83" class="mk"/><circle cx="587.15" cy="450.81" r="3" class="mk"/><path d="M587.15,447.81V453.81M584.15,450.81H590.15" class="mk"/><circle cx="604.47" cy="474.14" r="3" class="mk"/><path d="M604.47,471.14V477.14M601.47,474.14H607.47" class="mk"/><circle cx="621.78" cy="497.71" r="3" class="mk"/><path d="M621.78,494.71V500.71M618.78,497.71H624.78" class="mk"/><circle cx="639.1" cy="520.28" r="3" class="mk"/><path d="M639.1,517.28V523.28M636.1,520.28H642.1" class="mk"/><circle cx="656.42" cy="536.84" r="3" class="mk"/><path d="M656.42,533.84V539.84M653.42,536.84H659.42" class="mk"/><circle cx="673.73" cy="545.62" r="3" class="mk"/><path d="M673.73,542.62V548.62M670.73,545.62H676.73" class="mk"/><circle cx="691.05" cy="550.38" r="3" class="mk"/><path d="M691.05,547.38V553.38M688.05,550.38H694.05" class="mk"/><circle cx="708.37" cy="551.89" r="3" class="mk"/><path d="M708.37,548.89V554.89M705.37,551.89H711.37" class="mk"/><path d="M465.93,352.75 C468.82,353.13 477.48,353.59 483.25,355.01 C489.02,356.43 494.79,358.1 500.57,361.28 C506.34,364.45 512.11,368.13 517.88,374.07 C523.66,380 529.43,388.11 535.2,396.89 C540.97,405.67 546.74,416.12 552.52,426.74 C558.29,437.35 564.06,448.93 569.83,460.59 C575.61,472.26 581.38,486.09 587.15,496.71 C592.92,507.33 598.69,516.44 604.47,524.3 C610.24,532.16 616.01,539.01 621.78,543.86 C627.56,548.71 633.33,551.59 639.1,553.39 C644.87,555.19 650.64,555.15 656.42,554.64 C662.19,554.14 667.96,552.18 673.73,550.38 C679.51,548.58 685.28,545.53 691.05,543.86 C696.82,542.19 705.48,540.93 708.37,540.35" class="ln w2" stroke-dasharray="4.4 1.3 1 1.3"/><path d="M465.93,348.95L469.53,355.15L462.33,355.15Z" class="mk"/><path d="M465.93,348.35V356.65M462.33,352.85H469.53" class="mk"/><path d="M483.25,351.21L486.85,357.41L479.65,357.41Z" class="mk"/><path d="M483.25,350.61V358.91M479.65,355.11H486.85" class="mk"/><path d="M500.57,357.48L504.17,363.68L496.97,363.68Z" class="mk"/><path d="M500.57,356.88V365.18M496.97,361.38H504.17" class="mk"/><path d="M517.88,370.27L521.48,376.47L514.28,376.47Z" class="mk"/><path d="M517.88,369.67V377.97M514.28,374.17H521.48" class="mk"/><path d="M535.2,393.09L538.8,399.29L531.6,399.29Z" class="mk"/><path d="M535.2,392.49V400.79M531.6,396.99H538.8" class="mk"/><path d="M552.52,422.94L556.12,429.14L548.92,429.14Z" class="mk"/><path d="M552.52,422.34V430.64M548.92,426.84H556.12" class="mk"/><path d="M569.83,456.79L573.43,462.99L566.23,462.99Z" class="mk"/><path d="M569.83,456.19V464.49M566.23,460.69H573.43" class="mk"/><path d="M587.15,492.91L590.75,499.11L583.55,499.11Z" class="mk"/><path d="M587.15,492.31V500.61M583.55,496.81H590.75" class="mk"/><path d="M604.47,520.5L608.07,526.7L600.87,526.7Z" class="mk"/><path d="M604.47,519.9V528.2M600.87,524.4H608.07" class="mk"/><path d="M621.78,540.06L625.38,546.26L618.18,546.26Z" class="mk"/><path d="M621.78,539.46V547.76M618.18,543.96H625.38" class="mk"/><path d="M639.1,549.59L642.7,555.79L635.5,555.79Z" class="mk"/><path d="M639.1,548.99V557.29M635.5,553.49H642.7" class="mk"/><path d="M656.42,550.84L660.02,557.04L652.82,557.04Z" class="mk"/><path d="M656.42,550.24V558.54M652.82,554.74H660.02" class="mk"/><path d="M673.73,546.58L677.33,552.78L670.13,552.78Z" class="mk"/><path d="M673.73,545.98V554.28M670.13,550.48H677.33" class="mk"/><path d="M691.05,540.06L694.65,546.26L687.45,546.26Z" class="mk"/><path d="M691.05,539.46V547.76M687.45,543.96H694.65" class="mk"/><path d="M708.37,536.55L711.97,542.75L704.77,542.75Z" class="mk"/><path d="M708.37,535.95V544.25M704.77,540.45H711.97" class="mk"/><path d="M600.8,333.8H612.3" class="ln" stroke-dasharray="3.3 1.9"/><path d="M619.3,333.8H630.3" class="ln" stroke-dasharray="3.3 1.9"/><path d="M611.8,333.8H619.8" class="ln"/><rect x="613.35" y="331.35" width="4.9" height="4.9" class="mk"/><path d="M615.8,331.35V336.25M613.35,333.8H618.25" class="mk"/><text x="635.7" y="338.1" font-size="14.6">top</text><path d="M600.8,350.3H612.3" class="ln" stroke-dasharray="1.2 2.2"/><path d="M619.3,350.3H630.3" class="ln" stroke-dasharray="1.2 2.2"/><circle cx="615.8" cy="350.3" r="3" class="mk"/><path d="M615.8,347.3V353.3M612.8,350.3H618.8" class="mk"/><text x="635.7" y="354.3" font-size="14.6">back roof</text><path d="M600.8,366.3H612.3" class="ln" stroke-dasharray="3.6 1.3 0.9 1.3"/><path d="M619.3,366.3H630.3" class="ln" stroke-dasharray="3.6 1.3 0.9 1.3"/><path d="M615.8,362.5L619.4,368.7L612.2,368.7Z" class="mk"/><path d="M615.8,361.9V370.2M612.2,366.4H619.4" class="mk"/><text x="635.7" y="370.4" font-size="14.6">top<tspan dx="-1.1"> +</tspan><tspan dx="-0.2"> back roof</tspan></text></g>
</svg></body></html>
